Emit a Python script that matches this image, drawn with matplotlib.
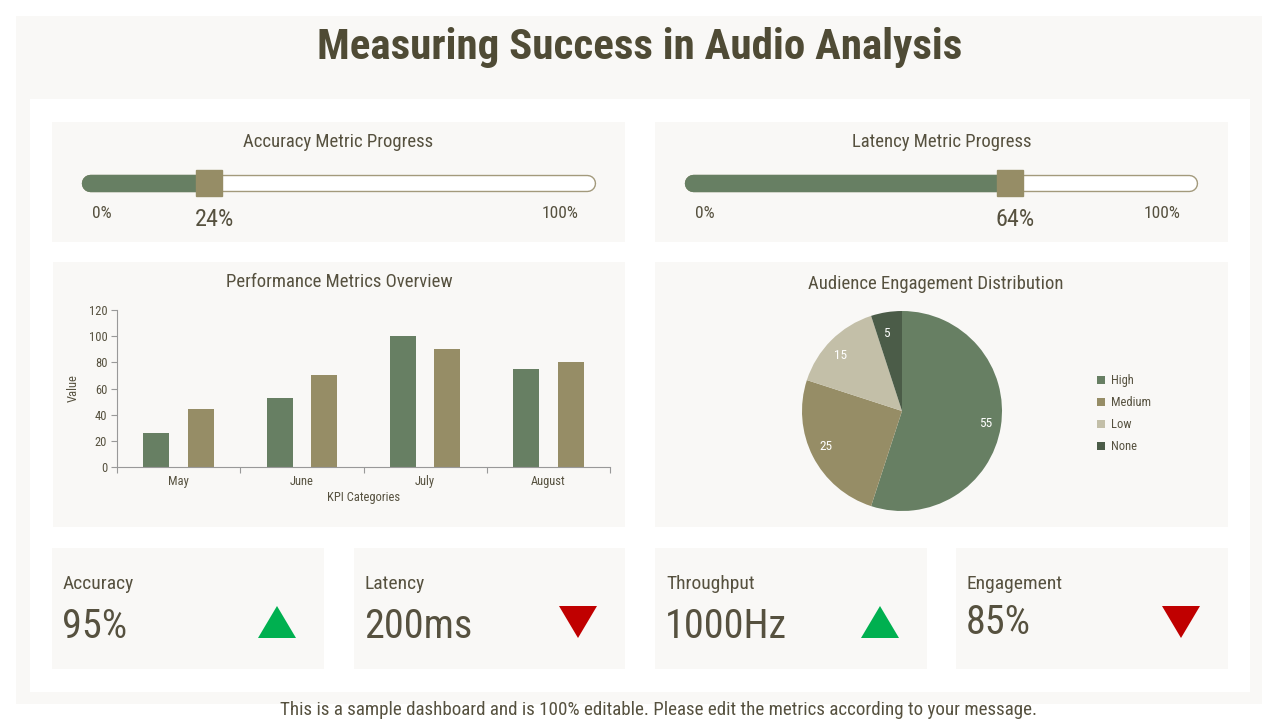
import matplotlib.pyplot as plt
from matplotlib.patches import Rectangle, Polygon
from matplotlib import font_manager

# data
title = 'Measuring Success in Audio Analysis'
slider_titles = ['Accuracy Metric Progress', 'Latency Metric Progress']
slider_values = [24, 64]
months = ['May', 'June', 'July', 'August']
series_a = [26, 53, 100, 75]
series_b = [44, 70, 90, 80]
pie_labels = ['High', 'Medium', 'Low', 'None']
pie_values = [55, 25, 15, 5]
kpi_names = ['Accuracy', 'Latency', 'Throughput', 'Engagement']
kpi_values = ['95%', '200ms', '1000Hz', '85%']
kpi_up = [True, False, True, False]
footer = 'This is a sample dashboard and is 100% editable. Please edit the metrics according to your message.'

names = {f.name for f in font_manager.fontManager.ttflist}
fams = [f for f in ['Liberation Sans Narrow', 'Roboto Condensed', 'Roboto'] if f in names]
plt.rcParams['font.family'] = fams + ['DejaVu Sans']

GREEN = '#677f63'
TAN = '#968d66'
LIGHT = '#c3bfa8'
DARK = '#4b5c48'
TXT = '#56513f'
CARD = '#f9f8f6'

W, H = 1280, 720
fig = plt.figure(figsize=(12.8, 7.2), dpi=100)
fig.patch.set_facecolor('white')

bg = fig.add_axes([0, 0, 1, 1])
bg.set_xlim(0, W)
bg.set_ylim(H, 0)
bg.axis('off')


def box(x0, y0, x1, y1, c=CARD):
    bg.add_patch(Rectangle((x0, y0), x1 - x0, y1 - y0, facecolor=c, edgecolor='none'))


def fax(x0, y0, x1, y1):
    return fig.add_axes([x0 / W, 1 - y1 / H, (x1 - x0) / W, (y1 - y0) / H])


box(16, 16, 1262, 704)
box(30, 99, 1250, 692, 'white')
bg.text(640, 47, title, ha='center', va='center', fontsize=31, fontweight='bold', color='#4f4b35')

# sliders
slider_boxes = [(52, 122, 625, 242), (655, 122, 1228, 242)]
tracks = [(81, 596), (684, 1198)]
for (x0, y0, x1, y1), (t0, t1), name, val in zip(slider_boxes, tracks, slider_titles, slider_values):
    box(x0, y0, x1, y1)
    bg.text((x0 + x1) / 2, 142, name, ha='center', va='center', fontsize=13.5, color=TXT)
    ax = fax(t0 + 9, 160, t1 - 9, 205)
    ax.set_xlim(0, 100)
    ax.set_ylim(-1, 1)
    ax.axis('off')
    ax.plot([0, 100], [0, 0], color='#a39a7c', lw=12.5, solid_capstyle='round')
    ax.plot([0, 100], [0, 0], color='white', lw=10.5, solid_capstyle='round')
    ax.plot([0, val], [0, 0], color=GREEN, lw=12.5, solid_capstyle='round')
    ax.plot([val], [0], marker='s', ms=19, color=TAN, mec=TAN)
    for ln in ax.lines:
        ln.set_clip_on(False)
    bg.text(t0 + 21, 214, '0%', ha='center', va='center', fontsize=12.5, color=TXT)
    bg.text(t1 - 36, 214, '100%', ha='center', va='center', fontsize=12.5, color=TXT)
    kx = t0 + 9 + (t1 - t0 - 18) * val / 100
    bg.text(kx + 5, 220, f'{val}%', ha='center', va='center', fontsize=17.5, color=TXT)

# bar chart
box(53, 262, 625, 527)
bg.text(339, 282, 'Performance Metrics Overview', ha='center', va='center', fontsize=13.5, color=TXT)
ax = fax(117, 310, 610, 467)
ax.set_facecolor('none')
x = range(len(months))
ax.bar([i - 0.18 for i in x], series_a, width=0.21, color=GREEN)
ax.bar([i + 0.18 for i in x], series_b, width=0.21, color=TAN)
ax.set_xlim(-0.5, len(months) - 0.5)
ax.set_ylim(0, 120)
ax.set_yticks(range(0, 121, 20))
ax.set_xticks([i - 0.5 for i in range(len(months) + 1)], minor=False)
ax.set_xticklabels([])
ax.set_xticks(list(x), minor=True)
ax.set_xticklabels(months, minor=True)
ax.tick_params(axis='x', which='minor', length=0, pad=6, labelsize=9, labelcolor=TXT)
ax.tick_params(axis='x', which='major', length=4, color='#999999')
ax.tick_params(axis='y', length=4, color='#999999', labelsize=9, labelcolor=TXT, pad=3)
for s in ['top', 'right']:
    ax.spines[s].set_visible(False)
for s in ['left', 'bottom']:
    ax.spines[s].set_color('#999999')
ax.set_xlabel('KPI Categories', fontsize=9, color=TXT, labelpad=2)
ax.set_ylabel('Value', fontsize=9, color=TXT, labelpad=6)

# pie chart
box(655, 262, 1228, 527)
bg.text(936, 284, 'Audience Engagement Distribution', ha='center', va='center', fontsize=13.5, color=TXT)
pax = fax(802, 311, 1002, 511)
wedges, texts = pax.pie(pie_values, colors=[GREEN, TAN, LIGHT, DARK], startangle=90,
                        counterclock=False, labels=[str(v) for v in pie_values],
                        labeldistance=0.78, textprops=dict(color='white', fontsize=9.5))
pax.set_xlim(-1, 1)
pax.set_ylim(-1, 1)
pax.set_aspect('equal')
leg = fig.legend(wedges, pie_labels, loc='upper left', bbox_to_anchor=(1086 / W, 1 - 363 / H),
                 frameon=False, fontsize=9, handlelength=0.6, handleheight=0.6,
                 handletextpad=0.5, labelspacing=0.72, labelcolor=TXT)

# kpi cards
kpi_boxes = [(52, 324), (354, 625), (655, 927), (956, 1228)]
for (x0, x1), name, val, up in zip(kpi_boxes, kpi_names, kpi_values, kpi_up):
    box(x0, 548, x1, 669)
    bg.text(x0 + 11, 584, name, ha='left', va='center', fontsize=14, color=TXT)
    vy = 622 if name == 'Engagement' else 627
    bg.text(x0 + 10, vy, val, ha='left', va='center', fontsize=29, color=TXT)
    cx = x1 - 47
    if up:
        pts = [(cx - 19, 638), (cx + 19, 638), (cx, 606)]
        col = '#00b050'
    else:
        pts = [(cx - 19, 606), (cx + 19, 606), (cx, 638)]
        col = '#c00000'
    bg.add_patch(Polygon(pts, closed=True, facecolor=col, edgecolor='none'))

bg.text(658, 710, footer, ha='center', va='center', fontsize=13.7, color=TXT)

fig.savefig('out.png', dpi=100, facecolor='white')
